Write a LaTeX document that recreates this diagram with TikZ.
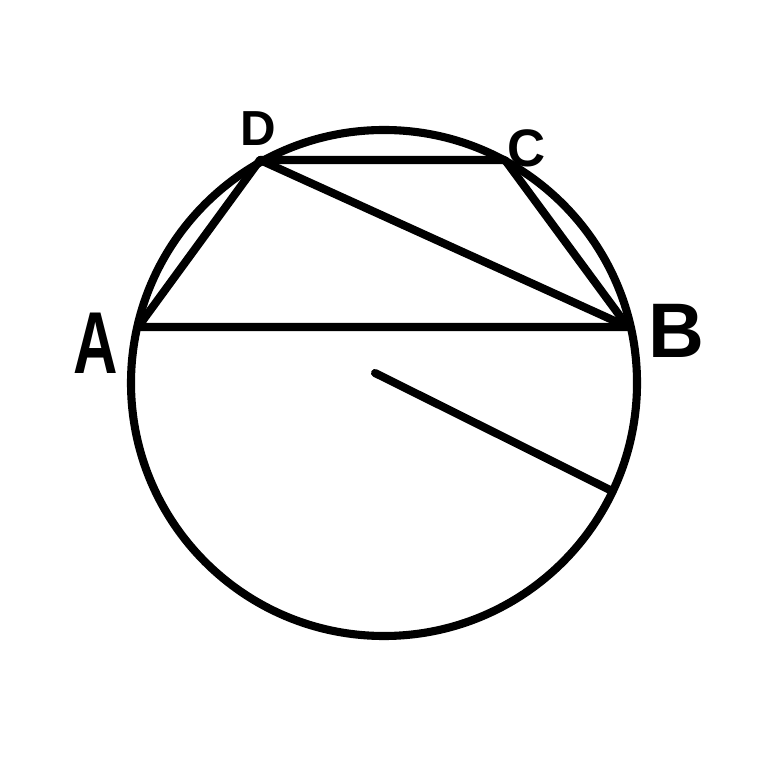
\documentclass[tikz,border=0pt]{standalone}
\usepackage{fontspec}
\setmainfont{Liberation Sans}
\usepackage{tikz}

\begin{document}
\begin{tikzpicture}[x=0.01cm, y=-0.01cm, line width=2.3pt, line cap=round, line join=round]
            \useasboundingbox (0, 0) rectangle (768, 768);

            \coordinate (o) at (384, 383);
            \coordinate (a) at (138, 327);
            \coordinate (b) at (628, 327);
            \coordinate (c) at (505, 160);
            \coordinate (d) at (260, 160);
            \coordinate (p) at (375, 373);
            \coordinate (q) at (610, 490);

            \draw (o) circle (253);

            \draw (a) -- (b) -- (c) -- (d) -- cycle;
            \draw (d) to (b);
            \draw (p) to (q);

            \node[xscale=0.7] (la) at (96, 343) {\fontsize{25}{25}\selectfont\bfseries A};
            \node (lb) at (676, 331) {\fontsize{22}{22}\selectfont\bfseries B};
            \node (lc) at (527, 148) {\fontsize{15}{15}\selectfont\bfseries C};
            \node (ld) at (258, 129) {\fontsize{14}{14}\selectfont\bfseries D};
        \end{tikzpicture}
\end{document}
